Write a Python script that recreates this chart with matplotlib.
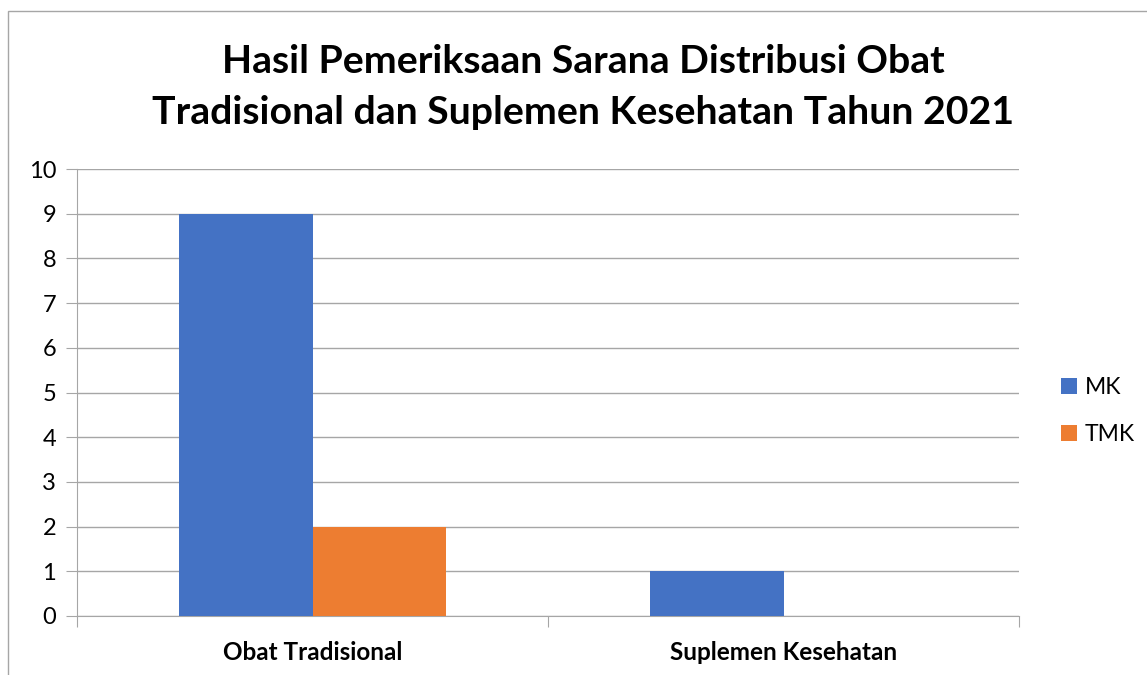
import matplotlib.pyplot as plt
from matplotlib.patches import Rectangle
import numpy as np

plt.rcParams['font.family'] = ['Lato', 'DejaVu Sans']

categories = ['Obat Tradisional', 'Suplemen Kesehatan']
mk = [9, 1]
tmk = [2, 0]
series_names = ['MK', 'TMK']
colors = ['#4472C4', '#ED7D31']
title = 'Hasil Pemeriksaan Sarana Distribusi Obat\nTradisional dan Suplemen Kesehatan Tahun 2021'

fig = plt.figure(figsize=(11.47, 6.75), dpi=100)
ax = fig.add_axes([77 / 1147, 59 / 675, 942 / 1147, 447 / 675])

# outer chart border (cut off at right and bottom like the original)
fig.patches.append(Rectangle((8 / 1147, -0.1), 1.2, (675 - 11) / 675 + 0.1,
                             transform=fig.transFigure, fill=False,
                             edgecolor='#A6A6A6', linewidth=1.0))

x = np.arange(len(categories))
w = 0.2845
ax.bar(x - w / 2, mk, w, color=colors[0], label=series_names[0], zorder=3)
ax.bar(x + w / 2, tmk, w, color=colors[1], label=series_names[1], zorder=3)

ax.set_xlim(-0.5, 1.5)
ax.set_ylim(0, 10)
ax.set_yticks(range(0, 11))
ax.yaxis.grid(True, color='#A6A6A6', linewidth=1.0, zorder=0)
ax.set_axisbelow(True)

for s in ['top', 'right']:
    ax.spines[s].set_visible(False)
ax.spines['left'].set_color('#A6A6A6')
ax.spines['bottom'].set_color('#A6A6A6')

ax.set_xticks([-0.5, 0.5, 1.5], minor=False)
ax.set_xticklabels([])
ax.tick_params(axis='x', which='major', length=8, color='#A6A6A6')
ax.set_xticks(x, minor=True)
ax.set_xticklabels(categories, minor=True, fontsize=17.5, fontweight='bold')
ax.tick_params(axis='x', which='minor', length=0, pad=18)
ax.tick_params(axis='y', length=8, color='#A6A6A6', labelsize=17, pad=7)

fig.text(583 / 1147, 1 - 87 / 675, title, ha='center', va='center',
         fontsize=28.3, fontweight='bold', linespacing=1.55)

ax.legend(loc='center left', bbox_to_anchor=(1040 / 1147, 1 - 411 / 675),
          bbox_transform=fig.transFigure, frameon=False, fontsize=16.5,
          handlelength=0.7, handleheight=0.7, handletextpad=0.35,
          labelspacing=1.1)

fig.savefig('out.png', dpi=100)
